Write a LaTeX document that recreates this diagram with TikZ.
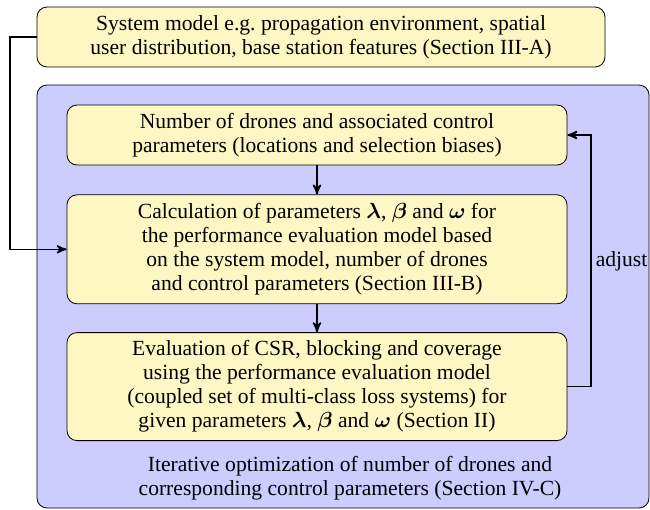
\documentclass[tikz,border=0pt]{standalone}
\usepackage{amsmath,amssymb}
\usepackage{fontspec}
\setmainfont{Liberation Serif}
\usetikzlibrary{arrows,positioning}
\definecolor{boxyellow}{RGB}{255,247,195}
\definecolor{loopblue}{RGB}{204,204,255}

\begin{document}
\begin{tikzpicture}[x=1pt,y=1pt,>=stealth',
  every node/.style={align=center,inner sep=2pt,font=\fontsize{10.8}{12}\selectfont},
  blockbox/.style={draw,fill=boxyellow,rounded corners=5pt,minimum width=250pt},
  flow/.style={->,line width=0.8pt}]
\useasboundingbox (0,0) rectangle (325,-255);
\fill[loopblue,draw=black,rounded corners=5pt] (18.5,-42.5) rectangle (324.5,-254);
\node[draw,fill=boxyellow,rounded corners=5pt,minimum width=284pt,minimum height=30pt] (sysmodel) at (160.5,-18.5)
  {System model e.g.\ propagation environment, spatial\\user distribution, base station features (Section III-A)};
\node[blockbox,minimum height=30pt] (drones) at (158.5,-67.5)
  {Number of drones and associated control\\parameters (locations and selection biases)};
\node[blockbox,minimum height=54.5pt,below=14.5pt of drones] (calc)
  {Calculation of parameters $\boldsymbol{\lambda}$, $\boldsymbol{\beta}$ and $\boldsymbol{\omega}$ for\\the performance evaluation model based\\on the system model, number of drones\\and control parameters (Section III-B)};
\node[blockbox,minimum height=54pt,below=14pt of calc] (evalu)
  {Evaluation of CSR, blocking and coverage\\using the performance evaluation model\\(coupled set of multi-class loss systems) for\\given parameters $\boldsymbol{\lambda}$, $\boldsymbol{\beta}$ and $\boldsymbol{\omega}$ (Section II)};
\node (iterlabel) at (175,-239)
  {Iterative optimization of number of drones and\\corresponding control parameters (Section IV-C)};
\coordinate (leftpt) at (5,0);
\coordinate (rightpt) at (295.5,0);
\draw[flow] (drones) -- (calc);
\draw[flow] (calc) -- (evalu);
\draw[flow] (sysmodel.west) -| (leftpt |- calc.west) -- (calc.west);
\draw[flow] (evalu.east) -- (rightpt |- evalu.east) |- (drones.east)
  node[pos=0.25,right] (adjlabel) {adjust};
\end{tikzpicture}
\end{document}
